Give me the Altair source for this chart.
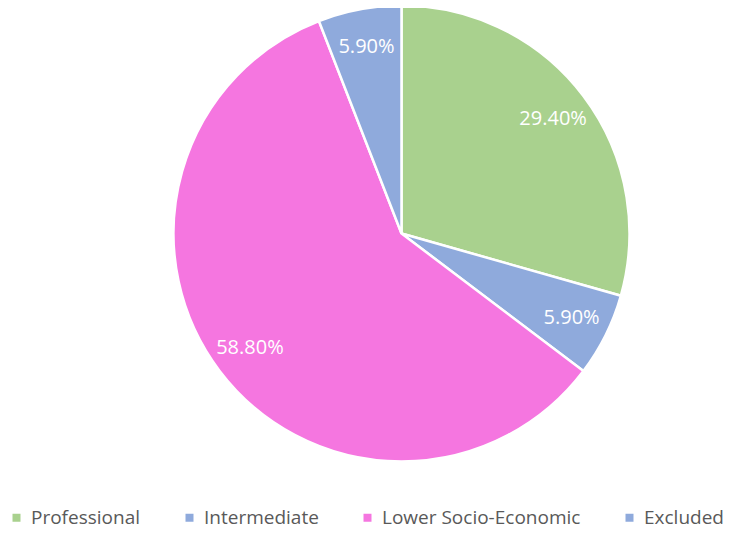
import altair as alt
import pandas as pd

categories = ["Professional", "Intermediate", "Lower Socio-Economic", "Excluded"]
values = [29.4, 5.9, 58.8, 5.9]
labels = ["29.40%", "5.90%", "58.80%", "5.90%"]
colors = ["#a9d18e", "#8faadc", "#f576e0", "#8faadc"]

df = pd.DataFrame({"category": categories, "value": values, "label": labels,
                   "order": list(range(len(categories)))})

FONT = "Open Sans"
CX, CY = 393.5, 225.5

base = alt.Chart(df).encode(
    theta=alt.Theta("value:Q", stack=True),
    order=alt.Order("order:Q"),
    x=alt.value(CX), y=alt.value(CY),
)

pie = base.mark_arc(outerRadius=228, stroke="white", strokeWidth=2.5).encode(
    color=alt.Color("category:N", sort=categories,
                    scale=alt.Scale(domain=categories, range=colors),
                    legend=alt.Legend(title=None, orient="none", direction="horizontal",
                                      legendX=-1, legendY=500,
                                      symbolType="square", symbolSize=64,
                                      labelFont=FONT, labelFontSize=19,
                                      labelLimit=400,
                                      labelColor="#595959", labelOffset=5,
                                      columnPadding=39, symbolStrokeWidth=0)),
)

text = base.mark_text(radius=190, font=FONT, fontSize=20, color="white").encode(
    text="label:N"
)

chart = alt.layer(pie, text).properties(
    width=728, height=520, autosize=alt.AutoSizeParams(type="none"), padding=0
).configure_view(stroke=None)

chart.save("out.html", embed_options={"renderer": "svg", "actions": False})
